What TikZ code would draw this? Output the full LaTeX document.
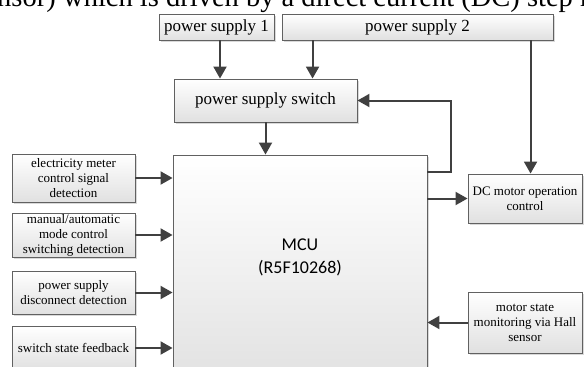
\documentclass[tikz,border=0pt]{standalone}
\usepackage{fontspec}
\setmainfont{Liberation Serif}
\newfontfamily\mcufont{Carlito}
\usetikzlibrary{calc}
\usetikzlibrary{arrows.meta}
\usetikzlibrary{shadows}

\begin{document}
\begin{tikzpicture}[x=1pt,y=-1pt,
  blk/.style={draw=black!62, line width=.9pt, top color=white, bottom color=black!12,
    drop shadow={shadow xshift=1.6pt, shadow yshift=-1.6pt, opacity=.3, fill=black!50},
    inner sep=1pt, align=center},
  arr/.style={draw=black!75, line width=2pt, -{Triangle[length=12pt,width=13pt]}},
  big/.style={font=\fontsize{17}{20}\selectfont},
  small/.style={font=\fontsize{13}{15}\selectfont}]
\useasboundingbox (0,0) rectangle (584,367);
\clip (0,0) rectangle (584,367);
% line of the page above
\node[anchor=base west, inner sep=0, font=\fontsize{28.5}{30}\selectfont] (page) at (63,6) {which is driven by a direct current (DC) step motor};
\node[anchor=base east, inner sep=0, font=\fontsize{28.5}{30}\selectfont] (pagel) at ($(page.base west)+(-7,0)$) {sensor)};
% supplies
\node[blk, big, minimum width=115, minimum height=26] (ps1) at (216.5,27) {power supply 1};
\node[blk, big, minimum width=271, minimum height=26] (ps2) at (417.5,27) {power supply 2};
\node[blk, big, minimum width=183, minimum height=43] (sw) at (265.5,100.5) {power supply switch};
% controller
\node[blk, minimum width=254, minimum height=235] (mcu) at (300,272.5) {};
\node[font=\mcufont\fontsize{18}{23}\selectfont, align=center] (mcutxt) at (300,257) {MCU\\(R5F10268)};
\foreach \nm/\y/\h/\t in {b1/178/48/{electricity meter\\control signal\\detection},
  b2/235/44/{manual/automatic\\mode control\\switching detection},
  b3/292.5/43/{power supply\\disconnect detection},
  b4/348/44/{switch state feedback}} {
 \node[blk, small, minimum width=123, minimum height=\h] (\nm) at (73.5,\y) {\t};
 \draw[arr] (\nm.east) -- (\nm.east -| mcu.west);
}
\node[blk, small, minimum width=114, minimum height=49] (dc) at (525,198.5) {DC motor operation\\control};
\node[blk, small, minimum width=114, minimum height=61] (hall) at (525,322.5) {motor state\\monitoring via Hall\\sensor};
% connectors
\coordinate (p1) at ($(ps1.south)+(3.5,0)$);
\coordinate (p2) at ($(ps2.south west)+(31,0)$);
\coordinate (p3) at ($(ps2.south west)+(249,0)$);
\coordinate (fb) at ($(mcu.north east)+(0,17)$);
\draw[arr] (p1) -- (p1 |- sw.north);
\draw[arr] (p2) -- (p2 |- sw.north);
\draw[arr] (p3) -- (p3 |- dc.north);
\draw[arr] (sw.south) -- (sw.south |- mcu.north);
\draw[arr] (fb) -- ++(24,0) |- (sw.east);
\draw[arr] (dc.west -| mcu.east) -- (dc.west);
\draw[arr] (hall.west) -- (hall.west -| mcu.east);
\end{tikzpicture}
\end{document}
